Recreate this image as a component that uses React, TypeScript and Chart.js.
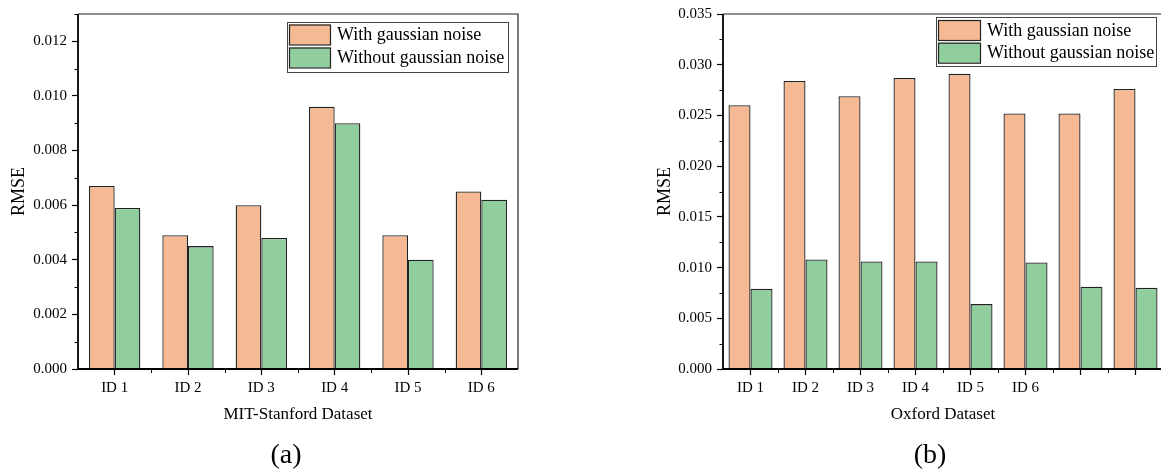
import React, { useEffect, useRef } from "react";
import { Chart, registerables } from "chart.js";

Chart.register(...registerables);

// ---------- Data ----------
const seriesNames = ["With gaussian noise", "Without gaussian noise"];

const mitCategories = ["ID 1", "ID 2", "ID 3", "ID 4", "ID 5", "ID 6"];
const mitWithNoise = [0.0067, 0.0049, 0.006, 0.0096, 0.0049, 0.0065];
const mitWithoutNoise = [0.0059, 0.0045, 0.0048, 0.009, 0.004, 0.0062];

const oxfordCategories = ["ID 1", "ID 2", "ID 3", "ID 4", "ID 5", "ID 6", "", ""];
const oxfordWithNoise = [0.026, 0.0284, 0.0269, 0.0287, 0.0291, 0.0252, 0.0252, 0.0276];
const oxfordWithoutNoise = [0.0079, 0.0108, 0.0106, 0.0106, 0.0064, 0.0105, 0.0081, 0.008];

const ORANGE = "rgb(245,186,147)";
const GREEN = "rgb(145,206,158)";
const EDGE = "#222";
const FONT = "'Liberation Serif', 'Times New Roman', serif";

// ---------- Plugins ----------
const framePlugin = {
  id: "frame",
  afterDatasetsDraw(chart: any, _args: any, opts: any) {
    const { ctx, chartArea: a, scales } = chart;
    const ys = scales.y;
    const xs = scales.x;
    ctx.save();
    ctx.strokeStyle = "#000";
    ctx.lineWidth = 1;
    ctx.beginPath();
    const step = opts.minorStep;
    for (let v = ys.min; v <= ys.max + 1e-12; v += step) {
      const r = Math.round((v / opts.majorStep) * 1000) / 1000;
      if (Math.abs(r - Math.round(r)) < 1e-6) continue;
      const py = Math.round(ys.getPixelForValue(v)) + 0.5;
      ctx.moveTo(a.left, py);
      ctx.lineTo(a.left - 3.5, py);
    }
    const n = xs.getLabels().length;
    const w = (a.right - a.left) / n;
    for (let i = 1; i < n; i++) {
      const px = Math.round(a.left + i * w) + 0.5;
      ctx.moveTo(px, a.bottom);
      ctx.lineTo(px, a.bottom + 4);
    }
    ctx.stroke();
    ctx.strokeStyle = "#222";
    ctx.lineWidth = 1.2;
    ctx.beginPath();
    ctx.moveTo(a.left, a.top);
    ctx.lineTo(a.right, a.top);
    ctx.lineTo(a.right, a.bottom);
    ctx.stroke();
    ctx.strokeStyle = "#000";
    ctx.lineWidth = 1.8;
    ctx.beginPath();
    ctx.moveTo(a.left, a.top);
    ctx.lineTo(a.left, a.bottom);
    ctx.lineTo(a.right, a.bottom);
    ctx.stroke();
    ctx.restore();
  },
};

const boxLegendPlugin = {
  id: "boxLegend",
  afterDraw(chart: any, _args: any, o: any) {
    const { ctx } = chart;
    ctx.save();
    ctx.fillStyle = "#fff";
    ctx.fillRect(o.x, o.y, o.w, o.h);
    ctx.strokeStyle = "#444";
    ctx.lineWidth = 1;
    ctx.strokeRect(o.x + 0.5, o.y + 0.5, o.w, o.h);
    chart.data.datasets.forEach((ds: any, i: number) => {
      const sy = o.y + o.firstOffset + i * o.rowGap;
      ctx.fillStyle = ds.backgroundColor;
      ctx.fillRect(o.x + 2, sy, o.sw, o.sh);
      ctx.strokeStyle = EDGE;
      ctx.lineWidth = 1.2;
      ctx.strokeRect(o.x + 2.5, sy + 0.5, o.sw, o.sh);
      ctx.fillStyle = "#000";
      ctx.font = `18px ${FONT}`;
      ctx.textBaseline = "middle";
      ctx.textAlign = "left";
      ctx.fillText(ds.label, o.x + o.sw + 9, sy + o.sh / 2 + 1);
    });
    ctx.restore();
  },
};

const captionPlugin = {
  id: "caption",
  afterDraw(chart: any, _args: any, o: any) {
    const { ctx } = chart;
    ctx.save();
    ctx.fillStyle = "#000";
    ctx.font = `28px ${FONT}`;
    ctx.textAlign = "center";
    ctx.textBaseline = "middle";
    ctx.fillText(o.text, o.x, o.y);
    ctx.restore();
  },
};

function makeConfig(p: any) {
  return {
    type: "bar" as const,
    data: {
      labels: p.labels,
      datasets: [
        {
          label: seriesNames[0],
          data: p.a,
          backgroundColor: ORANGE,
          borderColor: EDGE,
          borderWidth: 1.3,
          categoryPercentage: p.catPct,
          barPercentage: 1.0,
        },
        {
          label: seriesNames[1],
          data: p.b,
          backgroundColor: GREEN,
          borderColor: EDGE,
          borderWidth: 1.3,
          categoryPercentage: p.catPct,
          barPercentage: 1.0,
        },
      ],
    },
    options: {
      responsive: false,
      maintainAspectRatio: false,
      animation: false as const,
      devicePixelRatio: 1,
      layout: { padding: { left: 0, top: 14, right: p.padRight, bottom: 47 } },
      plugins: {
        legend: { display: false },
        tooltip: { enabled: false },
        frame: { minorStep: p.minorStep, majorStep: p.step },
        boxLegend: p.legend,
        caption: p.caption,
      },
      scales: {
        x: {
          type: "category" as const,
          offset: true,
          grid: {
            offset: false,
            drawOnChartArea: false,
            drawTicks: true,
            tickLength: 6,
            tickColor: "#000",
            tickWidth: 1.2,
          },
          border: { display: false },
          ticks: {
            color: "#000",
            font: { family: FONT, size: 15 },
            padding: 4,
            maxRotation: 0,
            autoSkip: false,
          },
          title: {
            display: true,
            text: p.xTitle,
            color: "#000",
            font: { family: FONT, size: 17 },
            padding: 0,
          },
          afterFit(scale: any) {
            scale.height = 56;
          },
        },
        y: {
          type: "linear" as const,
          min: 0,
          max: p.max,
          grid: {
            drawOnChartArea: false,
            drawTicks: true,
            tickLength: 6,
            tickColor: "#000",
            tickWidth: 1.2,
          },
          border: { display: false },
          ticks: {
            stepSize: p.step,
            includeBounds: false,
            color: "#000",
            font: { family: FONT, size: 15 },
            padding: 5,
            callback: (v: any) => Number(v).toFixed(3),
          },
          title: {
            display: true,
            text: "RMSE",
            color: "#000",
            font: { family: FONT, size: 18 },
            padding: { top: p.yTitlePad, bottom: 0 },
          },
          afterFit(scale: any) {
            scale.width = p.yWidth;
          },
        },
      },
    },
    plugins: [framePlugin, boxLegendPlugin, captionPlugin],
  };
}

function BarChart(props: { cfg: any; left: number; width: number }) {
  const ref = useRef<HTMLCanvasElement>(null);
  useEffect(() => {
    if (!ref.current) return;
    const chart = new Chart(ref.current, props.cfg);
    return () => chart.destroy();
  }, []);
  return (
    <canvas
      ref={ref}
      width={props.width}
      height={472}
      style={{ position: "absolute", left: props.left, top: 0, width: props.width, height: 472 }}
    />
  );
}

export default function App() {
  const leftCfg = makeConfig({
    labels: mitCategories,
    a: mitWithNoise,
    b: mitWithoutNoise,
    catPct: 0.7,
    max: 0.013,
    step: 0.002,
    minorStep: 0.001,
    xTitle: "MIT-Stanford Dataset",
    yWidth: 78,
    yTitlePad: 8,
    padRight: 62,
    legend: { x: 287, y: 22, w: 221, h: 50, sw: 41, sh: 20, firstOffset: 2.5, rowGap: 23 },
    caption: { text: "(a)", x: 286, y: 456 },
  });
  const rightCfg = makeConfig({
    labels: oxfordCategories,
    a: oxfordWithNoise,
    b: oxfordWithoutNoise,
    catPct: 0.8,
    max: 0.035,
    step: 0.005,
    minorStep: 0.0025,
    xTitle: "Oxford Dataset",
    yWidth: 143,
    yTitlePad: 74,
    padRight: 17,
    legend: { x: 356, y: 17, w: 220, h: 49, sw: 42, sh: 20, firstOffset: 3, rowGap: 22.7 },
    caption: { text: "(b)", x: 350, y: 456 },
  });
  return (
    <div
      style={{
        position: "fixed",
        left: 0,
        top: 0,
        width: 1161,
        height: 472,
        overflow: "hidden",
        background: "#fff",
      }}
    >
      <BarChart cfg={leftCfg} left={0} width={580} />
      <BarChart cfg={rightCfg} left={580} width={600} />
    </div>
  );
}
